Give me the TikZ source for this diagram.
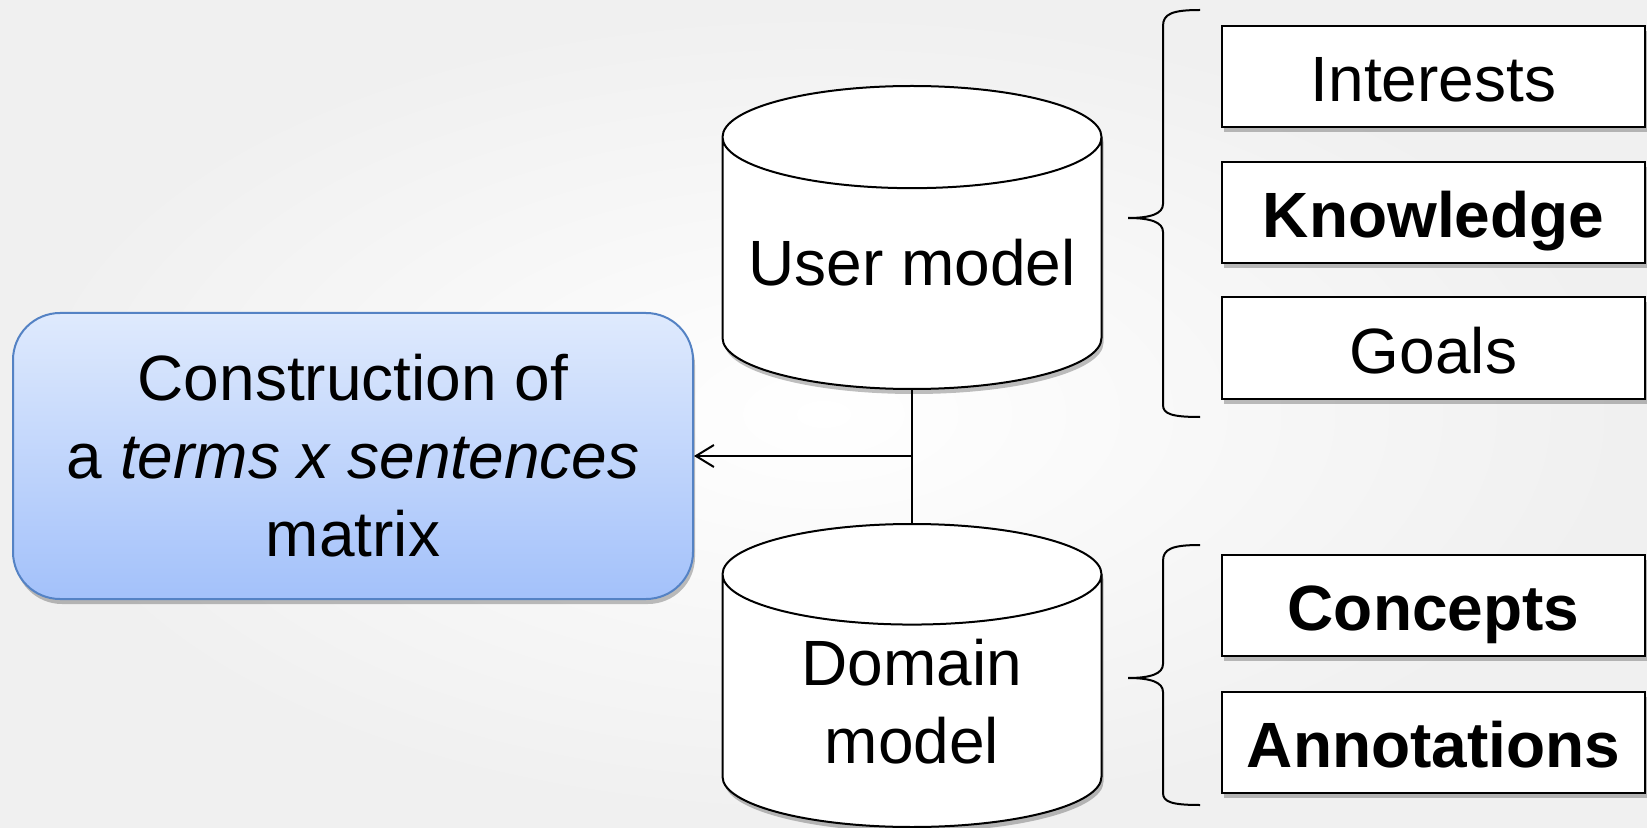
\documentclass[tikz,border=0pt]{standalone}
\usepackage{fontspec}
\setmainfont{Liberation Sans}
\usetikzlibrary{shapes.geometric}
\usetikzlibrary{shadows}
\usetikzlibrary{arrows.meta}
\definecolor{boxtop}{RGB}{223,234,253}
\definecolor{boxbottom}{RGB}{163,193,250}
\definecolor{boxline}{RGB}{84,130,196}
\tikzset{
	bigfont/.style={font=\fontsize{32}{39}\selectfont},
	softshadow/.style={drop shadow={shadow xshift=1pt,shadow yshift=-2.5pt,fill=black,opacity=0.25}},
	taskstyle/.style={rectangle,rounded corners=23.5pt,draw=boxline,line width=1pt,top color=boxtop,bottom color=boxbottom,minimum width=340pt,minimum height=143pt,align=center,bigfont,softshadow},
	modelstyle/.style={cylinder,shape border rotate=90,aspect=0.3,draw=black,fill=white,line width=1pt,minimum width=189.5pt,minimum height=151.5pt,anchor=north,align=center,bigfont,softshadow},
	itemstyle/.style={rectangle,draw=black,fill=white,line width=1pt,minimum width=211.5pt,minimum height=50.5pt,inner sep=0pt,text height=28pt,text depth=2.6pt,bigfont,softshadow},
	bracestyle/.style={line width=1pt},
	linkstyle/.style={line width=1pt}
}

\begin{document}
\begin{tikzpicture}[x=0.5pt,y=-0.5pt]
	\useasboundingbox (0,0) rectangle (1647,828);
	\shade[inner color=white,outer color=gray!12] (0,0) rectangle (1647,828);
	% task and models
	\node[taskstyle] (constr) at (353,456) {Construction of\\a \textit{terms x sentences}\\matrix};
	\node[modelstyle] (user) at (912,85) {User model\rule[-7.5pt]{0pt}{0pt}};
	\node[modelstyle,aspect=0.43] (domain) at (912,523) {Domain\\model\rule[-6.5pt]{0pt}{0pt}};
	% items
	\node[itemstyle] (interests) at (1433.5,76.5) {Interests};
	\node[itemstyle] (knowledge) at (1433.5,212.5) {\textbf{Knowledge}};
	\node[itemstyle] (goals) at (1433.5,348) {Goals};
	\node[itemstyle] (concepts) at (1433.5,605.5) {\textbf{Concepts}};
	\node[itemstyle] (annotations) at (1433.5,742.5) {\textbf{Annotations}};
	% links
	\coordinate (fork) at (user.south |- constr.east);
	\draw[linkstyle] (user.south) -- (domain.north);
	\draw[linkstyle,-{Straight Barb[length=9pt,width=11pt]}] (fork) -- (constr.east);
	% braces
	\draw[bracestyle] (1200,10) .. controls (1172,10) and (1163,14) .. (1163,26) -- (1163,204) .. controls (1163,214) and (1150,218) .. (1128,218) .. controls (1150,218) and (1163,222) .. (1163,232) -- (1163,405) .. controls (1163,414) and (1172,417) .. (1200,417);
	\draw[bracestyle] (1200,545) .. controls (1172,545) and (1163,549) .. (1163,561) -- (1163,664) .. controls (1163,674) and (1150,678) .. (1128,678) .. controls (1150,678) and (1163,682) .. (1163,692) -- (1163,793) .. controls (1163,802) and (1172,805) .. (1200,805);
\end{tikzpicture}
\end{document}
